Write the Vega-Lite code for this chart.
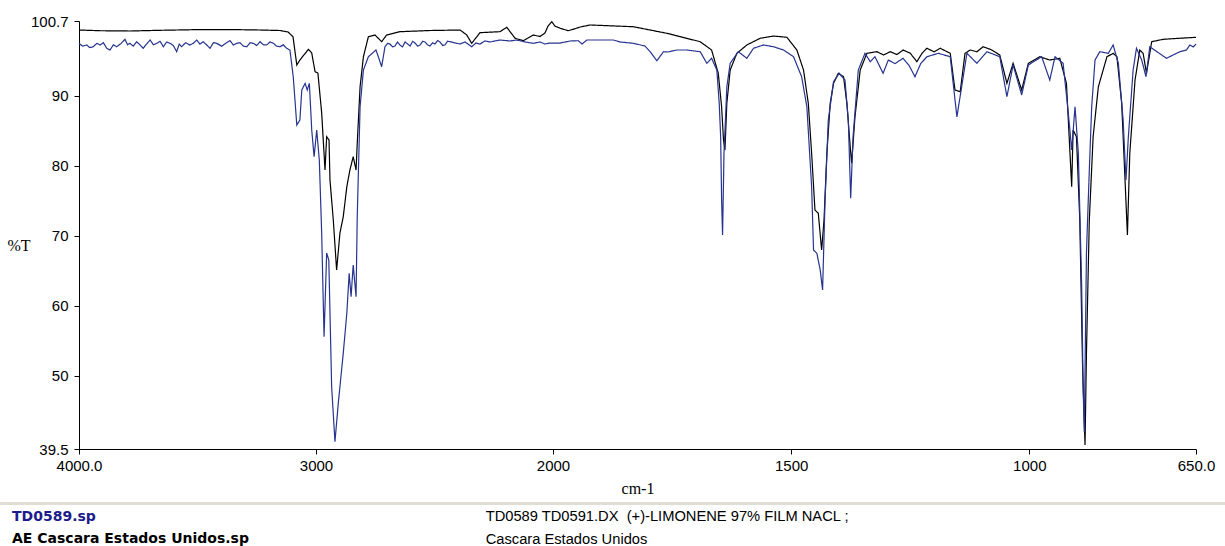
{
  "$schema": "https://vega.github.io/schema/vega-lite/v6.json",
  "width": 1117,
  "height": 428,
  "autosize": "none",
  "padding": {"left": 79, "top": 21, "right": 29, "bottom": 97},
  "background": "white",
  "config": {"view": {"stroke": null}},
  "datasets": {
    "info": [
      {"s": "b", "file": "TD0589.sp", "desc": "TD0589 TD0591.DX \u00a0(+)-LIMONENE 97% FILM NACL ;"},
      {"s": "k", "file": "AE Cascara Estados Unidos.sp", "desc": "Cascara Estados Unidos"}
    ],
    "spectra": [
      {"s":"k","wn":4000,"T":99.41},{"s":"k","wn":3911,"T":99.31},{"s":"k","wn":3785,"T":99.27},{"s":"k","wn":3658,"T":99.37},{"s":"k","wn":3511,"T":99.46},{"s":"k","wn":3363,"T":99.48},{"s":"k","wn":3236,"T":99.41},{"s":"k","wn":3152,"T":99.34},{"s":"k","wn":3118,"T":99.13},{"s":"k","wn":3097,"T":98.45},{"s":"k","wn":3081,"T":94.41},{"s":"k","wn":3068,"T":95.12},{"s":"k","wn":3051,"T":95.84},{"s":"k","wn":3032,"T":96.65},{"s":"k","wn":3018,"T":96.12},{"s":"k","wn":3004,"T":93.45},{"s":"k","wn":2992,"T":93.26},{"s":"k","wn":2976,"T":87.54},{"s":"k","wn":2962,"T":79.39},{"s":"k","wn":2955,"T":84.15},{"s":"k","wn":2945,"T":83.68},{"s":"k","wn":2941,"T":77.96},{"s":"k","wn":2927,"T":72.24},{"s":"k","wn":2913,"T":65.09},{"s":"k","wn":2899,"T":70.38},{"s":"k","wn":2885,"T":72.71},{"s":"k","wn":2870,"T":77.0},{"s":"k","wn":2857,"T":79.39},{"s":"k","wn":2843,"T":81.29},{"s":"k","wn":2831,"T":79.39},{"s":"k","wn":2826,"T":83.21},{"s":"k","wn":2814,"T":91.3},{"s":"k","wn":2800,"T":95.59},{"s":"k","wn":2779,"T":98.45},{"s":"k","wn":2751,"T":98.7},{"s":"k","wn":2723,"T":97.74},{"s":"k","wn":2702,"T":98.7},{"s":"k","wn":2646,"T":99.17},{"s":"k","wn":2519,"T":99.34},{"s":"k","wn":2392,"T":99.41},{"s":"k","wn":2364,"T":98.7},{"s":"k","wn":2343,"T":97.51},{"s":"k","wn":2308,"T":99.03},{"s":"k","wn":2224,"T":99.17},{"s":"k","wn":2195,"T":99.8},{"s":"k","wn":2160,"T":98.23},{"s":"k","wn":2125,"T":97.88},{"s":"k","wn":2083,"T":98.7},{"s":"k","wn":2055,"T":98.48},{"s":"k","wn":2034,"T":98.98},{"s":"k","wn":2021,"T":99.98},{"s":"k","wn":2005,"T":100.6},{"s":"k","wn":1996,"T":99.98},{"s":"k","wn":1985,"T":99.66},{"s":"k","wn":1968,"T":99.31},{"s":"k","wn":1958,"T":99.51},{"s":"k","wn":1943,"T":99.84},{"s":"k","wn":1922,"T":100.13},{"s":"k","wn":1831,"T":99.88},{"s":"k","wn":1761,"T":98.94},{"s":"k","wn":1691,"T":97.74},{"s":"k","wn":1667,"T":96.55},{"s":"k","wn":1653,"T":93.22},{"s":"k","wn":1646,"T":88.44},{"s":"k","wn":1642,"T":83.68},{"s":"k","wn":1639,"T":82.25},{"s":"k","wn":1635,"T":88.93},{"s":"k","wn":1628,"T":93.69},{"s":"k","wn":1614,"T":96.08},{"s":"k","wn":1593,"T":97.27},{"s":"k","wn":1565,"T":98.23},{"s":"k","wn":1537,"T":98.55},{"s":"k","wn":1509,"T":98.37},{"s":"k","wn":1488,"T":96.55},{"s":"k","wn":1474,"T":93.69},{"s":"k","wn":1464,"T":88.93},{"s":"k","wn":1457,"T":81.78},{"s":"k","wn":1450,"T":73.67},{"s":"k","wn":1443,"T":73.2},{"s":"k","wn":1436,"T":67.95},{"s":"k","wn":1431,"T":72.24},{"s":"k","wn":1425,"T":81.78},{"s":"k","wn":1418,"T":88.93},{"s":"k","wn":1411,"T":91.79},{"s":"k","wn":1401,"T":93.22},{"s":"k","wn":1390,"T":92.73},{"s":"k","wn":1383,"T":88.93},{"s":"k","wn":1376,"T":82.72},{"s":"k","wn":1373,"T":80.35},{"s":"k","wn":1366,"T":87.0},{"s":"k","wn":1355,"T":93.69},{"s":"k","wn":1341,"T":96.08},{"s":"k","wn":1320,"T":96.31},{"s":"k","wn":1306,"T":95.84},{"s":"k","wn":1292,"T":96.31},{"s":"k","wn":1278,"T":95.9},{"s":"k","wn":1265,"T":96.55},{"s":"k","wn":1250,"T":96.1},{"s":"k","wn":1236,"T":94.88},{"s":"k","wn":1225,"T":96.1},{"s":"k","wn":1215,"T":96.8},{"s":"k","wn":1200,"T":96.3},{"s":"k","wn":1187,"T":96.8},{"s":"k","wn":1166,"T":96.08},{"s":"k","wn":1156,"T":90.83},{"s":"k","wn":1145,"T":90.59},{"s":"k","wn":1135,"T":96.08},{"s":"k","wn":1124,"T":96.55},{"s":"k","wn":1110,"T":96.3},{"s":"k","wn":1097,"T":97.02},{"s":"k","wn":1080,"T":96.6},{"s":"k","wn":1062,"T":95.84},{"s":"k","wn":1047,"T":91.79},{"s":"k","wn":1034,"T":94.65},{"s":"k","wn":1016,"T":90.83},{"s":"k","wn":1002,"T":94.65},{"s":"k","wn":978,"T":95.59},{"s":"k","wn":957,"T":95.12},{"s":"k","wn":936,"T":95.37},{"s":"k","wn":922,"T":91.79},{"s":"k","wn":911,"T":77.0},{"s":"k","wn":908,"T":85.11},{"s":"k","wn":901,"T":84.15},{"s":"k","wn":894,"T":72.24},{"s":"k","wn":888,"T":50.79},{"s":"k","wn":883,"T":40.07},{"s":"k","wn":880,"T":53.22},{"s":"k","wn":874,"T":72.24},{"s":"k","wn":866,"T":84.15},{"s":"k","wn":855,"T":91.3},{"s":"k","wn":837,"T":95.59},{"s":"k","wn":824,"T":96.08},{"s":"k","wn":816,"T":95.59},{"s":"k","wn":806,"T":88.93},{"s":"k","wn":799,"T":77.96},{"s":"k","wn":794,"T":70.1},{"s":"k","wn":789,"T":81.78},{"s":"k","wn":778,"T":92.26},{"s":"k","wn":768,"T":96.55},{"s":"k","wn":761,"T":96.08},{"s":"k","wn":754,"T":93.22},{"s":"k","wn":743,"T":97.74},{"s":"k","wn":719,"T":98.08},{"s":"k","wn":684,"T":98.23},{"s":"k","wn":650,"T":98.37},

      {"s":"b","wn":4000,"T":97.51},{"s":"b","wn":3985,"T":97.1},{"s":"b","wn":3967,"T":97.27},{"s":"b","wn":3955,"T":96.9},{"s":"b","wn":3940,"T":97.02},{"s":"b","wn":3925,"T":97.5},{"s":"b","wn":3911,"T":97.27},{"s":"b","wn":3897,"T":97.6},{"s":"b","wn":3883,"T":96.8},{"s":"b","wn":3869,"T":96.55},{"s":"b","wn":3855,"T":97.3},{"s":"b","wn":3841,"T":97.02},{"s":"b","wn":3822,"T":97.5},{"s":"b","wn":3806,"T":98.08},{"s":"b","wn":3795,"T":97.3},{"s":"b","wn":3785,"T":97.51},{"s":"b","wn":3771,"T":97.1},{"s":"b","wn":3757,"T":97.74},{"s":"b","wn":3743,"T":97.3},{"s":"b","wn":3729,"T":96.8},{"s":"b","wn":3715,"T":97.4},{"s":"b","wn":3700,"T":97.98},{"s":"b","wn":3686,"T":97.3},{"s":"b","wn":3672,"T":97.51},{"s":"b","wn":3658,"T":97.8},{"s":"b","wn":3644,"T":97.02},{"s":"b","wn":3630,"T":97.7},{"s":"b","wn":3616,"T":97.51},{"s":"b","wn":3602,"T":97.2},{"s":"b","wn":3588,"T":96.31},{"s":"b","wn":3577,"T":97.4},{"s":"b","wn":3567,"T":97.02},{"s":"b","wn":3550,"T":97.6},{"s":"b","wn":3532,"T":97.27},{"s":"b","wn":3518,"T":97.5},{"s":"b","wn":3503,"T":97.98},{"s":"b","wn":3490,"T":97.4},{"s":"b","wn":3476,"T":97.74},{"s":"b","wn":3462,"T":97.3},{"s":"b","wn":3447,"T":96.8},{"s":"b","wn":3433,"T":97.6},{"s":"b","wn":3419,"T":97.51},{"s":"b","wn":3398,"T":97.1},{"s":"b","wn":3377,"T":97.6},{"s":"b","wn":3363,"T":97.9},{"s":"b","wn":3349,"T":97.27},{"s":"b","wn":3335,"T":97.5},{"s":"b","wn":3321,"T":97.6},{"s":"b","wn":3306,"T":97.1},{"s":"b","wn":3292,"T":97.02},{"s":"b","wn":3278,"T":97.6},{"s":"b","wn":3265,"T":97.51},{"s":"b","wn":3250,"T":97.2},{"s":"b","wn":3236,"T":97.74},{"s":"b","wn":3222,"T":97.3},{"s":"b","wn":3208,"T":97.27},{"s":"b","wn":3194,"T":97.7},{"s":"b","wn":3180,"T":97.51},{"s":"b","wn":3166,"T":97.1},{"s":"b","wn":3152,"T":97.02},{"s":"b","wn":3138,"T":97.3},{"s":"b","wn":3124,"T":96.8},{"s":"b","wn":3110,"T":96.55},{"s":"b","wn":3096,"T":92.73},{"s":"b","wn":3081,"T":85.83},{"s":"b","wn":3068,"T":86.54},{"s":"b","wn":3060,"T":90.83},{"s":"b","wn":3046,"T":91.79},{"s":"b","wn":3037,"T":90.83},{"s":"b","wn":3028,"T":91.79},{"s":"b","wn":3018,"T":85.11},{"s":"b","wn":3008,"T":81.29},{"s":"b","wn":2997,"T":85.11},{"s":"b","wn":2986,"T":80.82},{"s":"b","wn":2976,"T":70.34},{"s":"b","wn":2966,"T":55.55},{"s":"b","wn":2955,"T":67.52},{"s":"b","wn":2946,"T":66.52},{"s":"b","wn":2934,"T":48.41},{"s":"b","wn":2920,"T":40.54},{"s":"b","wn":2906,"T":46.03},{"s":"b","wn":2885,"T":53.18},{"s":"b","wn":2870,"T":58.9},{"s":"b","wn":2860,"T":64.62},{"s":"b","wn":2852,"T":61.27},{"s":"b","wn":2843,"T":65.81},{"s":"b","wn":2831,"T":61.27},{"s":"b","wn":2826,"T":72.71},{"s":"b","wn":2814,"T":88.44},{"s":"b","wn":2800,"T":93.69},{"s":"b","wn":2779,"T":95.59},{"s":"b","wn":2755,"T":96.31},{"s":"b","wn":2747,"T":96.55},{"s":"b","wn":2737,"T":95.59},{"s":"b","wn":2723,"T":94.16},{"s":"b","wn":2709,"T":97.02},{"s":"b","wn":2698,"T":97.5},{"s":"b","wn":2688,"T":97.41},{"s":"b","wn":2677,"T":97.0},{"s":"b","wn":2667,"T":97.12},{"s":"b","wn":2656,"T":97.7},{"s":"b","wn":2646,"T":97.27},{"s":"b","wn":2635,"T":97.0},{"s":"b","wn":2624,"T":97.7},{"s":"b","wn":2613,"T":97.4},{"s":"b","wn":2603,"T":97.12},{"s":"b","wn":2592,"T":97.8},{"s":"b","wn":2582,"T":97.55},{"s":"b","wn":2571,"T":97.1},{"s":"b","wn":2561,"T":97.27},{"s":"b","wn":2550,"T":97.8},{"s":"b","wn":2540,"T":97.7},{"s":"b","wn":2530,"T":97.3},{"s":"b","wn":2519,"T":97.12},{"s":"b","wn":2508,"T":97.6},{"s":"b","wn":2498,"T":97.41},{"s":"b","wn":2487,"T":97.9},{"s":"b","wn":2477,"T":97.7},{"s":"b","wn":2466,"T":97.2},{"s":"b","wn":2456,"T":97.27},{"s":"b","wn":2445,"T":97.8},{"s":"b","wn":2435,"T":97.74},{"s":"b","wn":2413,"T":97.55},{"s":"b","wn":2392,"T":97.41},{"s":"b","wn":2371,"T":97.7},{"s":"b","wn":2343,"T":97.02},{"s":"b","wn":2325,"T":97.55},{"s":"b","wn":2308,"T":97.41},{"s":"b","wn":2287,"T":97.84},{"s":"b","wn":2266,"T":97.7},{"s":"b","wn":2224,"T":97.98},{"s":"b","wn":2181,"T":97.84},{"s":"b","wn":2153,"T":97.98},{"s":"b","wn":2118,"T":97.7},{"s":"b","wn":2083,"T":97.51},{"s":"b","wn":2055,"T":97.7},{"s":"b","wn":2034,"T":97.41},{"s":"b","wn":2013,"T":97.55},{"s":"b","wn":1985,"T":97.55},{"s":"b","wn":1964,"T":97.84},{"s":"b","wn":1947,"T":97.88},{"s":"b","wn":1939,"T":97.41},{"s":"b","wn":1929,"T":97.98},{"s":"b","wn":1901,"T":97.98},{"s":"b","wn":1873,"T":97.98},{"s":"b","wn":1859,"T":97.7},{"s":"b","wn":1831,"T":97.51},{"s":"b","wn":1807,"T":97.12},{"s":"b","wn":1796,"T":96.31},{"s":"b","wn":1782,"T":95.02},{"s":"b","wn":1768,"T":96.31},{"s":"b","wn":1759,"T":96.27},{"s":"b","wn":1740,"T":96.55},{"s":"b","wn":1719,"T":96.55},{"s":"b","wn":1691,"T":96.31},{"s":"b","wn":1677,"T":94.65},{"s":"b","wn":1667,"T":95.37},{"s":"b","wn":1656,"T":93.69},{"s":"b","wn":1651,"T":88.93},{"s":"b","wn":1648,"T":84.15},{"s":"b","wn":1646,"T":75.1},{"s":"b","wn":1644,"T":70.1},{"s":"b","wn":1641,"T":81.78},{"s":"b","wn":1635,"T":91.3},{"s":"b","wn":1628,"T":94.65},{"s":"b","wn":1611,"T":96.31},{"s":"b","wn":1593,"T":95.37},{"s":"b","wn":1579,"T":96.8},{"s":"b","wn":1558,"T":97.27},{"s":"b","wn":1537,"T":97.02},{"s":"b","wn":1516,"T":96.55},{"s":"b","wn":1495,"T":95.59},{"s":"b","wn":1478,"T":92.73},{"s":"b","wn":1467,"T":88.44},{"s":"b","wn":1457,"T":77.0},{"s":"b","wn":1453,"T":67.95},{"s":"b","wn":1446,"T":67.48},{"s":"b","wn":1439,"T":65.09},{"s":"b","wn":1434,"T":62.23},{"s":"b","wn":1429,"T":74.63},{"s":"b","wn":1422,"T":86.54},{"s":"b","wn":1411,"T":92.02},{"s":"b","wn":1399,"T":93.22},{"s":"b","wn":1387,"T":92.26},{"s":"b","wn":1380,"T":86.54},{"s":"b","wn":1375,"T":75.35},{"s":"b","wn":1370,"T":84.15},{"s":"b","wn":1359,"T":93.69},{"s":"b","wn":1345,"T":96.08},{"s":"b","wn":1334,"T":94.88},{"s":"b","wn":1324,"T":95.59},{"s":"b","wn":1307,"T":93.22},{"s":"b","wn":1296,"T":95.12},{"s":"b","wn":1282,"T":94.6},{"s":"b","wn":1265,"T":95.37},{"s":"b","wn":1252,"T":94.3},{"s":"b","wn":1240,"T":92.73},{"s":"b","wn":1228,"T":94.6},{"s":"b","wn":1215,"T":95.59},{"s":"b","wn":1191,"T":96.08},{"s":"b","wn":1166,"T":95.59},{"s":"b","wn":1152,"T":87.0},{"s":"b","wn":1142,"T":91.3},{"s":"b","wn":1131,"T":96.08},{"s":"b","wn":1110,"T":94.65},{"s":"b","wn":1089,"T":96.31},{"s":"b","wn":1062,"T":95.59},{"s":"b","wn":1047,"T":89.87},{"s":"b","wn":1034,"T":94.41},{"s":"b","wn":1016,"T":90.12},{"s":"b","wn":1002,"T":94.41},{"s":"b","wn":974,"T":95.59},{"s":"b","wn":957,"T":92.26},{"s":"b","wn":946,"T":95.59},{"s":"b","wn":929,"T":94.65},{"s":"b","wn":918,"T":87.5},{"s":"b","wn":911,"T":82.25},{"s":"b","wn":904,"T":88.44},{"s":"b","wn":897,"T":81.78},{"s":"b","wn":890,"T":62.7},{"s":"b","wn":887,"T":48.41},{"s":"b","wn":884.5,"T":41.93},{"s":"b","wn":880,"T":67.52},{"s":"b","wn":874,"T":79.39},{"s":"b","wn":869,"T":88.44},{"s":"b","wn":862,"T":95.12},{"s":"b","wn":852,"T":96.31},{"s":"b","wn":834,"T":96.08},{"s":"b","wn":824,"T":97.27},{"s":"b","wn":813,"T":94.65},{"s":"b","wn":803,"T":86.54},{"s":"b","wn":797,"T":77.96},{"s":"b","wn":792,"T":84.15},{"s":"b","wn":782,"T":93.69},{"s":"b","wn":775,"T":96.8},{"s":"b","wn":764,"T":95.12},{"s":"b","wn":755,"T":92.73},{"s":"b","wn":747,"T":97.02},{"s":"b","wn":712,"T":95.37},{"s":"b","wn":684,"T":96.31},{"s":"b","wn":670,"T":96.55},{"s":"b","wn":663,"T":97.27},{"s":"b","wn":656,"T":96.98},{"s":"b","wn":650,"T":97.41}
    ]
  },
  "layer": [
    {
      "data": {"name": "spectra"},
      "transform": [
        {"lookup": "s", "from": {"data": {"name": "info"}, "key": "s", "fields": ["file", "desc"]}}
      ],
      "mark": {"type": "line", "strokeWidth": 1.2},
      "encoding": {
        "x": {
          "field": "wn", "type": "quantitative",
          "scale": {"domain": [4000, 2000, 650], "range": [0, 474, 1117], "zero": false, "nice": false},
          "axis": {
            "values": [4000, 3000, 2000, 1500, 1000, 650],
            "labelExpr": "datum.value == 4000 ? '4000.0' : datum.value == 650 ? '650.0' : '' + datum.value",
            "title": "cm-1",
            "titleFont": "Liberation Serif", "titleFontSize": 16, "titleFontWeight": "normal", "titleColor": "#000000", "titlePadding": 7,
            "labelFont": "Liberation Sans", "labelFontSize": 15, "labelColor": "#000000", "labelPadding": 4,
            "labelFlush": false, "labelOverlap": false,
            "tickSize": 5, "tickColor": "#000000", "domainColor": "#000000", "grid": false
          }
        },
        "y": {
          "field": "T", "type": "quantitative",
          "scale": {"domain": [39.5, 100.7], "zero": false, "nice": false},
          "axis": {
            "values": [39.5, 50, 60, 70, 80, 90, 100.7],
            "labelExpr": "'' + datum.value",
            "title": "%T", "titleAngle": 0, "titleX": -72, "titleY": 224, "titleAlign": "left", "titleBaseline": "middle",
            "titleFont": "Liberation Serif", "titleFontSize": 16, "titleFontWeight": "normal", "titleColor": "#000000",
            "labelFont": "Liberation Sans", "labelFontSize": 15, "labelColor": "#000000", "labelPadding": 6,
            "labelFlush": false, "labelOverlap": false,
            "tickSize": 5, "tickColor": "#000000", "domainColor": "#000000", "grid": false
          }
        },
        "color": {
          "field": "file", "type": "nominal",
          "scale": {"domain": ["TD0589.sp", "AE Cascara Estados Unidos.sp"], "range": ["#26348f", "#000000"]},
          "legend": {
            "title": null, "orient": "none", "legendX": -81, "legendY": 489, "direction": "vertical",
            "padding": 0, "rowPadding": 8, "symbolOpacity": 0, "symbolSize": 0, "symbolStrokeWidth": 0, "labelOffset": 0,
            "labelFont": "DejaVu Sans", "labelFontWeight": "bold", "labelFontSize": 14, "labelLimit": 500,
            "encode": {"labels": {"update": {"fill": {"signal": "datum.value === 'TD0589.sp' ? '#1c1c8c' : '#000000'"}}}}
          }
        },
        "strokeDash": {
          "field": "desc", "type": "nominal",
          "scale": {"domain": ["TD0589 TD0591.DX \u00a0(+)-LIMONENE 97% FILM NACL ;", "Cascara Estados Unidos"], "range": [[1, 0], [1, 0]]},
          "legend": {
            "title": null, "orient": "none", "legendX": 392, "legendY": 488.5, "direction": "vertical",
            "padding": 0, "rowPadding": 7.3, "symbolOpacity": 0, "symbolSize": 0, "symbolStrokeWidth": 0, "labelOffset": 0,
            "labelFont": "Liberation Sans", "labelFontSize": 14.7, "labelColor": "#000000", "labelLimit": 600
          }
        }
      }
    },
    {
      "data": {"values": [{"separator": "footer"}]},
      "mark": {"type": "rule", "color": "#e0ddd5", "strokeWidth": 3},
      "encoding": {"x": {"datum": 4333}, "x2": {"datum": 589}, "y": {"datum": 31.7}}
    }
  ]
}
